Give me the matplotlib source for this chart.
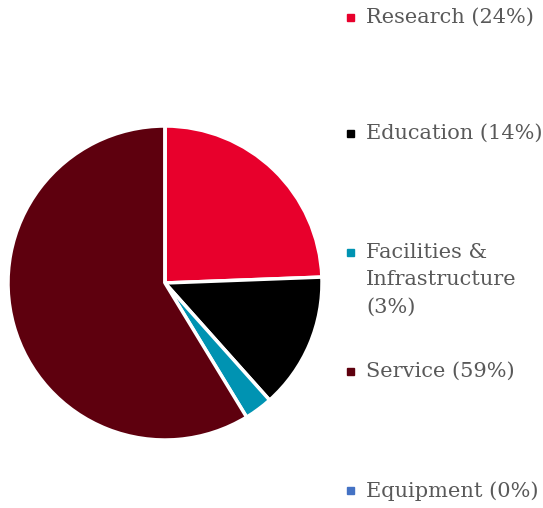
import matplotlib.pyplot as plt
from matplotlib.patches import Rectangle

categories = ['Research', 'Education', 'Facilities &\nInfrastructure', 'Service', 'Equipment']
shares = [24.4, 14.0, 2.9, 58.7, 0.0]
pct_labels = [24, 14, 3, 59, 0]
colors = ['#E8002C', '#000000', '#0093B2', '#5E000E', '#4472C4']

W, H = 543, 508
fig = plt.figure(figsize=(W / 100, H / 100), dpi=100)

# pie: centre (165, 283) px, radius ~157 px
cx, cy, r = 165, 283, 157
ax = fig.add_axes([(cx - r) / W, (H - cy - r) / H, 2 * r / W, 2 * r / H])
ax.pie(shares, colors=colors, startangle=90, counterclock=False,
       wedgeprops=dict(edgecolor='white', linewidth=2.5))
ax.set_xlim(-1, 1)
ax.set_ylim(-1, 1)
ax.set_aspect('equal')
ax.axis('off')

# legend drawn by hand, y = centre of first text line in px
legend_y = [17, 133, 252, 371, 490]
for name, pct, col, y in zip(categories, pct_labels, colors, legend_y):
    if '\n' in name:
        label = f'{name}\n({pct}%)'
    else:
        label = f'{name} ({pct}%)'
    fig.patches.append(Rectangle((347 / W, (H - y - 4) / H), 7 / W, 7 / H,
                                 transform=fig.transFigure, color=col))
    fig.text(366 / W, (H - y + 9) / H, label, fontsize=15, family='DejaVu Serif',
             color='#595959', va='top', linespacing=1.55)

fig.savefig('out.png', dpi=100)
